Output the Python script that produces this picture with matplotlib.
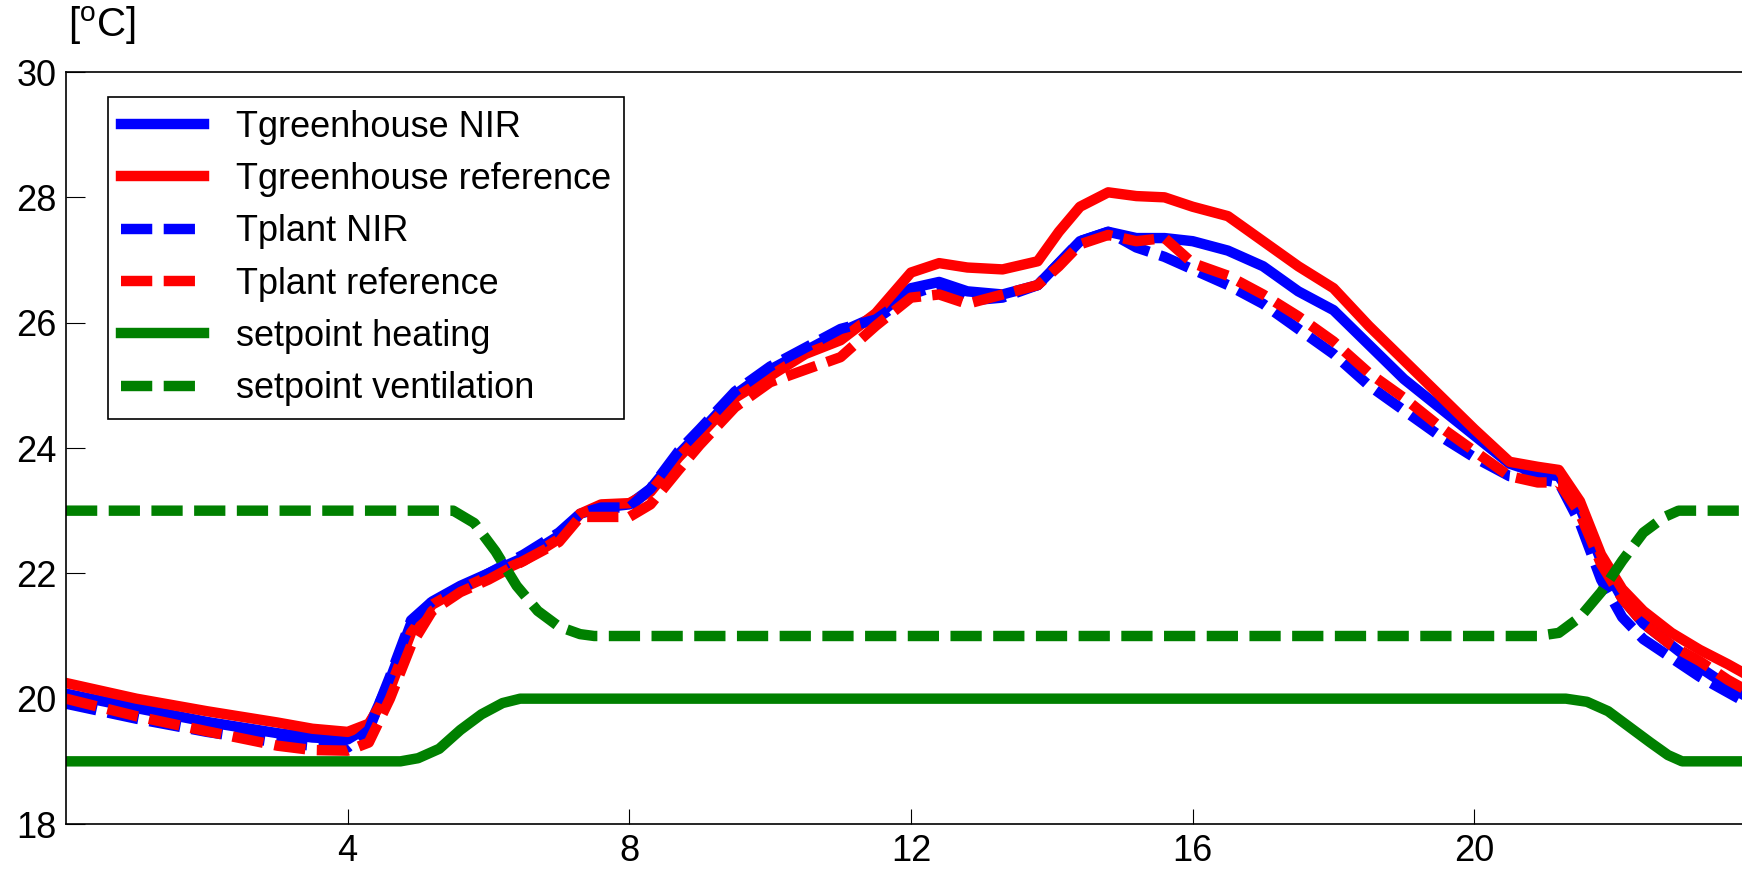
import matplotlib.pyplot as plt
import numpy as np

plt.rcParams['font.family'] = ['Liberation Sans', 'DejaVu Sans']
plt.rcParams['mathtext.fontset'] = 'custom'
plt.rcParams['mathtext.rm'] = 'Liberation Sans'

# time of day [h]
t = [0, 1, 2, 3, 3.5, 4.0, 4.3, 4.6, 4.9, 5.2, 5.6, 6.0, 6.5, 7.0, 7.3, 7.6,
     8.0, 8.3, 8.7, 9.0, 9.5, 10.0, 10.5, 11.0, 11.5, 12.0, 12.4, 12.8, 13.3,
     13.8, 14.1, 14.4, 14.8, 15.2, 15.6, 16.0, 16.5, 17.0, 17.5, 18.0, 18.5,
     19.0, 19.5, 20.0, 20.5, 20.9, 21.2, 21.5, 21.8, 22.1, 22.4, 22.8, 23.2,
     23.6, 24.0]

gh_nir = [20.08, 19.85, 19.63, 19.45, 19.38, 19.35, 19.55, 20.3, 21.2, 21.55,
          21.8, 22.0, 22.25, 22.6, 22.95, 23.05, 23.1, 23.35, 23.9, 24.25,
          24.85, 25.25, 25.55, 25.85, 26.1, 26.55, 26.65, 26.5, 26.45, 26.6,
          26.95, 27.3, 27.45, 27.35, 27.35, 27.3, 27.15, 26.9, 26.5, 26.2,
          25.65, 25.1, 24.65, 24.2, 23.75, 23.6, 23.55, 23.05, 22.2, 21.6,
          21.2, 20.85, 20.5, 20.2, 19.95]

gh_ref = [20.25, 20.0, 19.8, 19.62, 19.52, 19.47, 19.6, 20.15, 21.05, 21.5,
          21.75, 21.95, 22.2, 22.55, 22.95, 23.1, 23.12, 23.3, 23.85, 24.2,
          24.8, 25.15, 25.5, 25.72, 26.15, 26.8, 26.95, 26.88, 26.85, 26.98,
          27.45, 27.85, 28.08, 28.02, 28.0, 27.85, 27.7, 27.3, 26.9, 26.55,
          25.95, 25.4, 24.85, 24.3, 23.78, 23.7, 23.65, 23.15, 22.3, 21.75,
          21.4, 21.05, 20.78, 20.55, 20.3]

plant_nir = [19.92, 19.68, 19.47, 19.3, 19.25, 19.22, 19.5, 20.35, 21.25, 21.55,
             21.75, 22.0, 22.3, 22.65, 22.95, 23.05, 23.05, 23.35, 23.95, 24.3,
             24.9, 25.3, 25.6, 25.9, 26.05, 26.45, 26.6, 26.35, 26.4, 26.6,
             26.95, 27.3, 27.45, 27.2, 27.05, 26.85, 26.6, 26.3, 25.9, 25.5,
             25.0, 24.6, 24.2, 23.85, 23.55, 23.5, 23.45, 22.8, 21.9, 21.3,
             20.95, 20.65, 20.35, 20.1, 19.85]

plant_ref = [20.0, 19.72, 19.48, 19.25, 19.18, 19.17, 19.3, 20.0, 20.85, 21.4,
             21.7, 21.9, 22.2, 22.5, 22.9, 22.9, 22.9, 23.1, 23.65, 24.05,
             24.65, 25.05, 25.25, 25.45, 25.95, 26.4, 26.45, 26.3, 26.45, 26.6,
             26.9, 27.25, 27.4, 27.3, 27.35, 26.95, 26.75, 26.45, 26.1, 25.7,
             25.2, 24.8, 24.35, 23.95, 23.55, 23.45, 23.45, 22.95, 22.15, 21.6,
             21.2, 20.85, 20.6, 20.3, 20.05]

heat_t = [0, 4.75, 5.0, 5.3, 5.6, 5.9, 6.2, 6.45, 21.3, 21.6, 21.9, 22.2,
          22.5, 22.75, 22.95, 24]
heat_sp = [19, 19, 19.05, 19.2, 19.5, 19.75, 19.93, 20, 20, 19.95, 19.8,
           19.55, 19.3, 19.1, 19.0, 19]

vent_t = [0, 5.5, 5.8, 6.1, 6.4, 6.7, 7.0, 7.3, 7.5, 20.9, 21.2, 21.5, 21.8,
          22.1, 22.4, 22.7, 22.9, 24]
vent_sp = [23, 23, 22.8, 22.35, 21.8, 21.4, 21.15, 21.03, 21, 21, 21.05,
           21.3, 21.7, 22.2, 22.65, 22.9, 23, 23]

labels = ['Tgreenhouse NIR', 'Tgreenhouse reference', 'Tplant NIR',
          'Tplant reference', 'setpoint heating', 'setpoint ventilation']

fig = plt.figure(figsize=(17.42, 8.72), dpi=100)
ax = fig.add_axes([66 / 1742, 1 - 824 / 872, 1690 / 1742, 752 / 872])

lw = 7.5
dash = (3.0, 1.1)
ax.plot(t, gh_nir, color='blue', lw=lw, label=labels[0])
ax.plot(t, gh_ref, color='red', lw=lw, label=labels[1])
ax.plot(t, plant_nir, color='blue', lw=lw, ls=(0, dash), label=labels[2])
ax.plot(t, plant_ref, color='red', lw=lw, ls=(0, dash), label=labels[3])
ax.plot(heat_t, heat_sp, color='#008000', lw=lw, label=labels[4])
ax.plot(vent_t, vent_sp, color='#008000', lw=lw, ls=(0, dash), label=labels[5])

ax.set_xlim(0, 24)
ax.set_ylim(18, 30)
ax.set_xticks([4, 8, 12, 16, 20])
ax.set_yticks(np.arange(18, 31, 2))
ax.tick_params(labelsize=26, direction='in', width=0.8, colors='black')
ax.tick_params(axis='x', length=11, pad=7)
ax.tick_params(axis='y', length=14, pad=7)
for s in ax.spines.values():
    s.set_linewidth(1.2)

fig.text(68 / 1742, 1 - 4 / 872, '[$^{\\mathrm{o}}$C]', fontsize=29,
         ha='left', va='top')

leg = ax.legend(loc='upper left', bbox_to_anchor=(108 / 1742, 1 - 97 / 872),
                bbox_transform=fig.transFigure, fontsize=26, fancybox=False,
                framealpha=1, edgecolor='black', handlelength=2.3,
                handletextpad=0.9, labelspacing=0.48, borderpad=0.35,
                borderaxespad=0)
leg.get_frame().set_linewidth(1.2)

fig.savefig('out.png', dpi=100)
